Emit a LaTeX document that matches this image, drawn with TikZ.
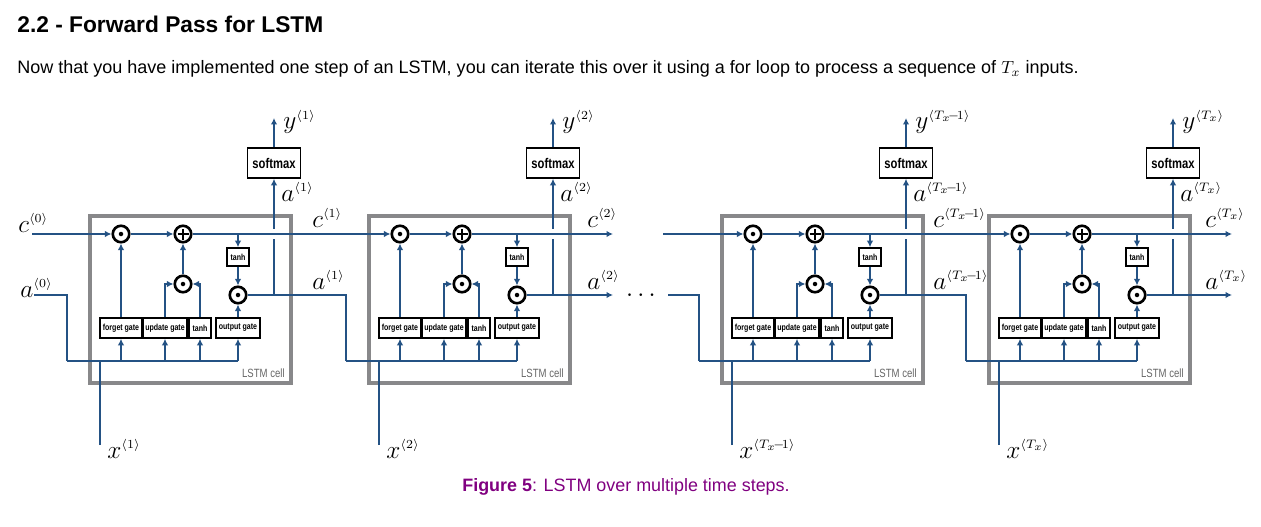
\documentclass[tikz,border=0pt]{standalone}
\usepackage{fontspec}
\setmainfont{Liberation Sans}
\newfontfamily\narrowsans[FakeStretch=0.8]{Liberation Sans}
\usepackage{amsmath}
\usepackage{xcolor}
\usetikzlibrary{arrows.meta}
\DeclareMathSizes{14}{14}{7.5}{6}
\definecolor{wire}{RGB}{36,82,132}
\definecolor{cellgray}{RGB}{136,136,138}
\definecolor{capcol}{RGB}{128,0,128}

\begin{document}
\begin{tikzpicture}[x=0.02cm,y=-0.02cm,
        wire/.style={draw=wire,line width=1.1pt},
        arr/.style={wire,-{Latex[length=1.3mm,width=1.3mm]}},
        gate/.style={draw,line width=0.9pt,fill=white,minimum height=4mm,
                     inner sep=0pt,font=\narrowsans\fontsize{5}{5}\selectfont\bfseries},
        op/.style={circle,draw,line width=1.5pt,fill=white,minimum size=3.3mm,
                   inner sep=0pt},
        dotop/.style={op,path picture={\fill[black] (path picture bounding box.center)
                   circle (0.45mm);}},
        plusop/.style={op,path picture={\draw[black,line width=0.6pt]
                   ([xshift=-1.1mm]path picture bounding box.center) --
                   ([xshift=1.1mm]path picture bounding box.center)
                   ([yshift=-1.1mm]path picture bounding box.center) --
                   ([yshift=1.1mm]path picture bounding box.center);}},
        lbl/.style={anchor=base west,inner sep=0pt,font=\fontsize{14}{16}\selectfont}]
        \useasboundingbox (0,0) rectangle (1261,527);
        \foreach \k/\L/\s/\dx in {1/88/1/224,2/367/2/220,3/720/T_x\!-\!1/213,4/987/T_x/218}{
          \draw[cellgray,line width=2.3pt] (\L+2,216) rectangle (\L+203,383);
          \node[anchor=base east,inner sep=0pt,text=black!60,
                font=\narrowsans\fontsize{6.8}{7}\selectfont] (cl\k) at (\L+197,377) {LSTM cell};
          \node[dotop] (fg\k) at (\L+33,234) {};
          \node[plusop] (pl\k) at (\L+95,234) {};
          \node[dotop] (mu\k) at (\L+95,284) {};
          \node[gate,minimum width=4.4mm,minimum height=3.6mm] (th\k) at (\L+150,257) {tanh};
          \node[dotop] (mo\k) at (\L+150,295) {};
          \node[gate,minimum width=8.4mm] (gf\k) at (\L+33,328) {forget gate};
          \node[gate,minimum width=8.8mm] (gu\k) at (\L+77,328) {update gate};
          \node[gate,minimum width=4.4mm] (gt\k) at (\L+112,328) {tanh};
          \node[gate,minimum width=8.8mm] (go\k) at (\L+150,328) {output gate};
          \node[draw,line width=0.9pt,minimum width=10.6mm,minimum height=6mm,inner sep=0pt,
                font=\narrowsans\fontsize{8}{8}\selectfont\bfseries] (sm\k) at (\L+186,163) {softmax};
          \coordinate (bus\k) at (\L-21,361);
          \coordinate (xin\k) at (\L+12,445);
          \coordinate (aj\k) at (\L+186,295);
          \coordinate (yo\k) at (\L+186,118);
          \draw[wire] (bus\k) -- (bus\k -| go\k);
          \foreach \g in {gf,gu,gt,go}
            \draw[arr] (bus\k -| \g\k) -- (\g\k);
          \draw[wire,line width=0.7pt] (xin\k) -- (bus\k -| xin\k);
          \draw[arr] (gf\k) -- (fg\k);
          \draw[arr] (fg\k) -- (pl\k);
          \draw[arr] (gu\k.north) |- (mu\k);
          \draw[arr] (gt\k.north) |- (mu\k);
          \draw[arr] (mu\k) -- (pl\k);
          \draw[arr] (th\k) -- (mo\k);
          \draw[arr] (go\k) -- (mo\k);
          \draw[arr] (aj\k) -- (sm\k);
          \draw[arr] (sm\k) -- (yo\k);
          \fill[white] (\L+183,229) rectangle (\L+189,239);
          \node[lbl] (ly\k) at (\L+195,129) {$y^{\langle \s\rangle}$};
          \node[lbl] (lt\k) at (\L+193,201) {$a^{\langle \s\rangle}$};
          \node[lbl] (lc\k) at (\L+\dx,227) {$c^{\langle \s\rangle}$};
          \node[lbl] (la\k) at (\L+\dx,289) {$a^{\langle \s\rangle}$};
          \node[lbl] (lx\k) at (\L+19,458) {$x^{\langle \s\rangle}$};
        }
        \coordinate (c0) at (32,234);
        \coordinate (a0) at (34,295);
        \coordinate (cend2) at (613,234);
        \coordinate (aend2) at (613,295);
        \coordinate (c3) at (663,234);
        \coordinate (a3) at (668,295);
        \coordinate (cend4) at (1232,234);
        \coordinate (aend4) at (1232,295);
        \node[lbl] (lc0) at (18,232) {$c^{\langle 0\rangle}$};
        \node[lbl] (la0) at (20,297) {$a^{\langle 0\rangle}$};
        \node[anchor=base,inner sep=0pt,font=\fontsize{14}{16}\selectfont] (dots) at (643,301) {$\cdots$};
        \draw[arr] (c0) -- (fg1);
        \draw[arr] (pl1) -- (fg2);
        \draw[arr] (pl2) -- (cend2);
        \draw[arr] (c3) -- (fg3);
        \draw[arr] (pl3) -- (fg4);
        \draw[arr] (pl4) -- (cend4);
        \draw[wire] (a0) -| (bus1);
        \draw[wire] (mo1) -| (bus2);
        \draw[arr] (mo2) -- (aend2);
        \draw[wire] (a3) -| (bus3);
        \draw[wire] (mo3) -| (bus4);
        \draw[arr] (mo4) -- (aend4);
        \foreach \k in {1,...,4}
          \draw[arr] (pl\k.east -| th\k) -- (th\k);
        \node[anchor=base west,inner sep=0pt,font=\fontsize{12.95}{14}\selectfont\bfseries]
          (ttl) at (17,33) {2.2 - Forward Pass for LSTM};
        \node[anchor=base west,inner sep=0pt,font=\fontsize{10.25}{12}\selectfont]
          (sub) at (17,74) {Now that you have implemented one step of an LSTM, you can iterate this over it using a for loop to process a sequence of $T_x$ inputs.};
        \node[anchor=base,inner sep=0pt,font=\fontsize{10.2}{12}\selectfont,text=capcol]
          (cap) at (626,491) {\textbf{Figure 5}: LSTM over multiple time steps.};
      \end{tikzpicture}
\end{document}
